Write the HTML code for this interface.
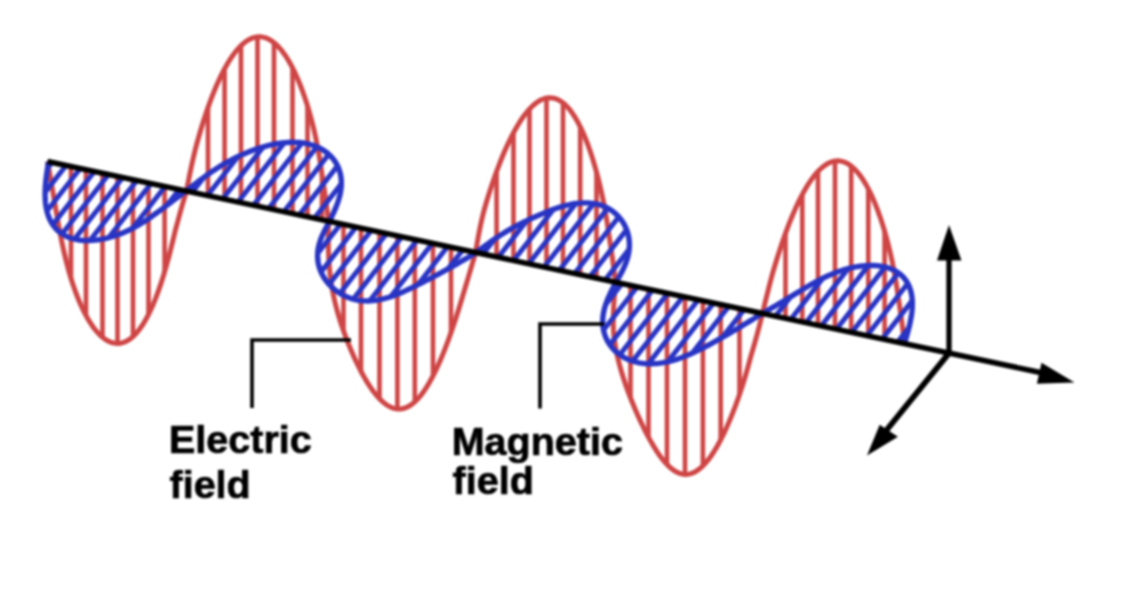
<!DOCTYPE html>
<html><head><meta charset="utf-8"><style>
html,body{margin:0;padding:0;background:#fff;width:1130px;height:592px;overflow:hidden;}
svg{display:block;filter:blur(0.8px);font-family:"Liberation Sans", sans-serif;}
</style></head><body>
<svg width="1130" height="592" viewBox="0 0 1130 592">
<defs>
<clipPath id="rc0"><path d="M47.50 161.50L48.22 165.49L48.94 169.47L49.66 173.46L50.36 177.45L51.06 181.44L51.76 185.44L52.45 189.44L53.14 193.45L53.82 197.46L54.51 201.49L55.19 205.53L55.88 209.59L56.58 213.67L57.30 217.78L58.03 221.92L58.78 226.09L59.57 230.29L60.38 234.54L61.23 238.82L62.11 243.15L63.05 247.53L64.03 251.94L65.07 256.40L66.17 260.90L67.33 265.43L68.57 269.99L69.87 274.57L71.26 279.16L72.72 283.74L74.27 288.31L75.91 292.85L77.63 297.33L79.43 301.74L81.33 306.06L83.31 310.27L85.38 314.33L87.53 318.24L89.76 321.96L92.07 325.46L94.45 328.72L96.90 331.72L99.41 334.42L101.97 336.81L104.59 338.87L107.24 340.57L109.93 341.89L112.65 342.82L115.38 343.35L118.13 343.46L120.87 343.15L123.61 342.42L126.34 341.26L129.04 339.68L131.71 337.68L134.35 335.28L136.94 332.48L139.48 329.32L141.97 325.81L144.39 321.96L146.75 317.82L149.03 313.41L151.24 308.76L153.38 303.90L155.43 298.87L157.40 293.70L159.29 288.43L161.09 283.09L162.81 277.71L164.45 272.34L166.01 266.99L167.48 261.70L168.88 256.50L170.21 251.40L171.46 246.44L172.64 241.62L173.76 236.96L174.81 232.48L175.92 228.17L177.03 224.04L178.10 220.08L179.13 216.30L180.13 212.68L181.10 209.20L182.05 205.87L182.98 202.65L183.89 199.52L184.80 196.47L185.70 193.47L186.60 190.50 Z"/></clipPath>
<clipPath id="rc1"><path d="M186.60 190.50L187.18 187.47L187.77 184.41L188.38 181.30L189.00 178.12L189.66 174.85L190.35 171.46L191.09 167.94L191.87 164.28L192.72 160.46L193.63 156.48L194.60 152.32L195.68 147.99L196.89 143.49L198.18 138.82L199.55 133.99L201.02 129.03L202.57 123.94L204.22 118.74L205.96 113.46L207.78 108.13L209.70 102.76L211.71 97.40L213.81 92.07L215.99 86.81L218.25 81.66L220.59 76.63L223.00 71.78L225.48 67.13L228.02 62.72L230.62 58.57L233.27 54.72L235.97 51.19L238.70 48.01L241.47 45.20L244.26 42.77L247.07 40.74L249.89 39.12L252.71 37.92L255.53 37.14L258.35 36.79L261.14 36.86L263.91 37.34L266.66 38.23L269.36 39.51L272.03 41.17L274.65 43.19L277.22 45.55L279.74 48.23L282.19 51.21L284.58 54.45L286.91 57.95L289.16 61.66L291.34 65.58L293.45 69.66L295.48 73.90L297.43 78.25L299.30 82.71L301.09 87.25L302.81 91.85L304.44 96.49L306.00 101.15L307.48 105.83L308.88 110.50L310.21 115.16L311.46 119.79L312.64 124.40L313.76 128.97L314.80 133.50L315.79 137.99L316.71 142.43L317.57 146.83L318.38 151.19L319.13 155.50L319.84 159.78L320.50 164.02L321.11 168.22L321.69 172.40L322.32 176.55L322.97 180.68L323.59 184.79L324.20 188.88L324.78 192.96L325.34 197.02L325.89 201.08L326.42 205.13L326.95 209.18L327.47 213.22L327.98 217.26L328.50 221.30 Z"/></clipPath>
<clipPath id="rc2"><path d="M328.50 221.30L328.44 225.50L328.38 229.71L328.34 233.91L328.32 238.11L328.33 242.31L328.38 246.51L328.47 250.71L328.62 254.91L328.82 259.12L329.08 263.33L329.42 267.54L329.82 271.77L330.28 276.02L330.83 280.28L331.47 284.56L332.20 288.87L333.02 293.21L333.93 297.59L334.94 302.00L336.05 306.44L337.25 310.93L338.54 315.45L339.93 320.02L341.41 324.62L342.98 329.25L344.63 333.90L346.37 338.57L348.19 343.25L350.10 347.93L352.07 352.58L354.12 357.21L356.24 361.78L358.43 366.28L360.67 370.69L362.98 374.98L365.34 379.13L367.75 383.12L370.21 386.92L372.71 390.50L375.26 393.84L377.84 396.91L380.46 399.69L383.10 402.14L385.78 404.26L388.48 406.02L391.19 407.39L393.93 408.36L396.67 408.92L399.43 409.06L402.19 408.77L404.95 408.04L407.70 406.88L410.45 405.28L413.19 403.26L415.90 400.83L418.60 398.00L421.27 394.78L423.91 391.21L426.51 387.30L429.07 383.08L431.59 378.58L434.05 373.83L436.47 368.88L438.82 363.74L441.11 358.46L443.33 353.08L445.48 347.62L447.56 342.13L449.57 336.63L451.49 331.16L453.34 325.76L455.10 320.44L456.79 315.23L458.39 310.15L459.91 305.22L461.36 300.46L462.73 295.87L464.05 291.47L465.32 287.24L466.53 283.20L467.68 279.34L468.78 275.64L469.83 272.09L470.84 268.68L471.81 265.40L472.76 262.21L473.68 259.10L474.59 256.03L475.50 253.00 Z"/></clipPath>
<clipPath id="rc3"><path d="M475.50 253.00L476.01 249.92L476.53 246.82L477.07 243.68L477.63 240.47L478.22 237.18L478.86 233.78L479.55 230.27L480.29 226.62L481.09 222.83L481.97 218.89L482.91 214.79L484.00 210.53L485.26 206.11L486.61 201.54L488.05 196.83L489.57 191.97L491.19 187.00L492.89 181.92L494.68 176.76L496.56 171.54L498.53 166.29L500.58 161.02L502.72 155.78L504.93 150.58L507.22 145.47L509.58 140.47L512.00 135.61L514.49 130.93L517.03 126.46L519.61 122.22L522.24 118.25L524.91 114.56L527.60 111.20L530.32 108.17L533.06 105.50L535.80 103.21L538.55 101.31L541.30 99.80L544.04 98.71L546.76 98.02L549.47 97.75L552.14 97.90L554.79 98.45L557.40 99.40L559.97 100.74L562.49 102.46L564.97 104.54L567.39 106.97L569.76 109.72L572.06 112.77L574.31 116.12L576.49 119.72L578.60 123.55L580.65 127.60L582.63 131.84L584.54 136.25L586.37 140.79L588.14 145.46L589.83 150.22L591.45 155.05L593.00 159.94L594.48 164.87L595.89 169.82L597.22 174.76L598.49 179.70L599.69 184.62L600.83 189.50L601.90 194.33L602.91 199.12L603.86 203.84L604.74 208.50L605.57 213.10L606.35 217.63L607.08 222.08L607.75 226.47L608.38 230.78L608.96 235.03L609.60 239.22L610.26 243.34L610.88 247.41L611.47 251.43L612.04 255.39L612.58 259.32L613.10 263.21L613.60 267.06L614.09 270.89L614.56 274.71L615.03 278.51L615.50 282.30 Z"/></clipPath>
<clipPath id="rc4"><path d="M615.50 282.30L615.12 286.67L614.76 291.04L614.41 295.41L614.09 299.77L613.81 304.13L613.59 308.49L613.42 312.84L613.32 317.18L613.29 321.52L613.34 325.86L613.49 330.20L613.79 334.55L614.33 338.90L614.97 343.27L615.70 347.65L616.55 352.05L617.49 356.47L618.54 360.92L619.70 365.40L620.95 369.92L622.31 374.47L623.76 379.05L625.31 383.68L626.95 388.33L628.67 393.02L630.48 397.73L632.36 402.46L634.32 407.20L636.35 411.94L638.44 416.66L640.59 421.35L642.80 425.99L645.05 430.56L647.36 435.04L649.71 439.41L652.11 443.64L654.54 447.71L657.01 451.59L659.51 455.25L662.05 458.67L664.61 461.81L667.21 464.67L669.83 467.20L672.47 469.38L675.14 471.19L677.84 472.62L680.55 473.64L683.28 474.24L686.02 474.40L688.78 474.13L691.54 473.40L694.32 472.24L697.10 470.62L699.87 468.57L702.64 466.09L705.40 463.20L708.14 459.91L710.87 456.26L713.56 452.25L716.22 447.92L718.84 443.30L721.41 438.43L723.93 433.33L726.38 428.05L728.77 422.61L731.09 417.06L733.32 411.44L735.47 405.77L737.53 400.10L739.50 394.45L741.36 388.87L743.13 383.37L744.79 377.98L746.35 372.73L747.80 367.63L749.14 362.70L750.39 357.94L751.70 353.38L753.00 349.00L754.22 344.80L755.36 340.79L756.42 336.95L757.42 333.26L758.36 329.72L759.25 326.30L760.09 322.98L760.91 319.74L761.71 316.56L762.50 313.40 Z"/></clipPath>
<clipPath id="rc5"><path d="M762.50 313.40L763.24 310.34L763.98 307.26L764.73 304.14L765.51 300.95L766.31 297.67L767.15 294.30L768.02 290.80L768.95 287.17L769.92 283.40L770.96 279.47L772.05 275.39L773.24 271.14L774.54 266.74L775.92 262.19L777.37 257.49L778.91 252.66L780.53 247.72L782.23 242.67L784.01 237.54L785.87 232.36L787.81 227.15L789.84 221.93L791.94 216.74L794.12 211.61L796.37 206.57L798.68 201.65L801.06 196.89L803.50 192.30L806.00 187.93L808.54 183.81L811.13 179.96L813.76 176.40L816.42 173.17L819.11 170.28L821.82 167.75L824.54 165.60L827.27 163.84L830.00 162.48L832.73 161.53L835.45 160.99L838.16 160.86L840.84 161.13L843.49 161.80L846.11 162.86L848.70 164.30L851.24 166.11L853.74 168.27L856.18 170.75L858.57 173.55L860.91 176.63L863.18 179.98L865.38 183.57L867.53 187.39L869.60 191.39L871.60 195.57L873.53 199.90L875.39 204.35L877.18 208.91L878.89 213.55L880.52 218.25L882.09 223.00L883.58 227.78L884.99 232.57L886.34 237.35L887.61 242.13L888.81 246.88L889.95 251.59L891.02 256.27L892.03 260.90L892.98 265.48L893.86 270.00L894.69 274.47L895.46 278.89L896.19 283.24L896.86 287.54L897.49 291.79L898.07 295.99L898.70 300.13L899.33 304.23L899.93 308.29L900.51 312.31L901.06 316.30L901.59 320.25L902.10 324.18L902.59 328.09L903.08 331.98L903.56 335.86L904.03 339.73L904.50 343.60 Z"/></clipPath>
<clipPath id="bc0"><path d="M48.50 162.00L48.11 164.44L47.73 166.88L47.36 169.33L47.00 171.78L46.66 174.23L46.34 176.69L46.04 179.16L45.78 181.63L45.55 184.11L45.36 186.59L45.22 189.08L45.13 191.56L45.09 194.05L45.12 196.52L45.22 198.99L45.39 201.44L45.64 203.87L45.97 206.28L46.39 208.65L46.91 210.99L47.52 213.27L48.24 215.51L49.06 217.69L49.99 219.80L51.03 221.84L52.19 223.79L53.46 225.66L54.85 227.44L56.35 229.12L57.97 230.70L59.70 232.16L61.53 233.52L63.48 234.75L65.52 235.87L67.65 236.87L69.88 237.75L72.19 238.50L74.57 239.13L77.02 239.65L79.53 240.04L82.10 240.32L84.70 240.48L87.33 240.54L89.99 240.49L92.67 240.34L95.34 240.10L98.02 239.76L100.69 239.34L103.33 238.85L105.96 238.28L108.55 237.64L111.10 236.94L113.61 236.18L116.07 235.38L118.49 234.52L120.85 233.63L123.16 232.69L125.42 231.73L127.63 230.73L129.78 229.70L131.88 228.65L133.94 227.57L135.95 226.47L137.93 225.35L139.87 224.20L141.78 223.04L143.66 221.86L145.53 220.65L147.38 219.43L149.22 218.18L151.06 216.91L152.89 215.62L154.74 214.31L156.59 212.97L158.46 211.61L160.34 210.23L162.24 208.82L164.16 207.39L166.11 205.94L168.07 204.46L170.06 202.97L172.08 201.46L174.11 199.93L176.16 198.38L178.23 196.82L180.31 195.25L182.40 193.67L184.50 192.09L186.60 190.50 Z"/></clipPath>
<clipPath id="bc1"><path d="M186.60 190.50L188.78 188.81L190.95 187.13L193.12 185.45L195.29 183.79L197.45 182.14L199.61 180.51L201.76 178.91L203.90 177.33L206.04 175.79L208.16 174.27L210.28 172.79L212.40 171.34L214.50 169.93L216.61 168.55L218.70 167.21L220.80 165.91L222.90 164.64L225.00 163.40L227.10 162.20L229.21 161.04L231.33 159.90L233.46 158.79L235.61 157.71L237.78 156.66L239.97 155.63L242.18 154.63L244.42 153.66L246.69 152.70L248.99 151.78L251.33 150.87L253.70 150.00L256.11 149.15L258.55 148.33L261.04 147.55L263.56 146.80L266.12 146.09L268.71 145.42L271.34 144.81L274.01 144.25L276.70 143.74L279.42 143.30L282.16 142.93L284.91 142.64L287.68 142.43L290.46 142.31L293.23 142.27L296.00 142.34L298.76 142.51L301.49 142.78L304.19 143.17L306.86 143.67L309.48 144.29L312.05 145.02L314.56 145.88L317.00 146.85L319.35 147.95L321.63 149.16L323.81 150.49L325.88 151.93L327.85 153.49L329.70 155.15L331.43 156.91L333.04 158.77L334.51 160.71L335.84 162.75L337.04 164.85L338.09 167.03L338.99 169.28L339.75 171.57L340.36 173.92L340.83 176.31L341.15 178.74L341.32 181.20L341.36 183.68L341.26 186.18L341.02 188.69L340.67 191.22L340.19 193.74L339.60 196.27L338.90 198.80L338.11 201.33L337.23 203.86L336.28 206.37L335.25 208.89L334.17 211.40L333.04 213.90L331.88 216.40L330.70 218.90L329.50 221.40 Z"/></clipPath>
<clipPath id="bc2"><path d="M329.50 221.40L328.21 223.73L326.94 226.07L325.70 228.41L324.50 230.75L323.35 233.12L322.28 235.49L321.29 237.88L320.40 240.28L319.62 242.71L318.95 245.14L318.40 247.60L318.00 250.06L317.73 252.54L317.61 255.02L317.64 257.51L317.82 259.99L318.16 262.47L318.66 264.93L319.32 267.37L320.13 269.78L321.10 272.16L322.21 274.49L323.47 276.76L324.87 278.98L326.41 281.13L328.07 283.20L329.85 285.18L331.74 287.07L333.74 288.86L335.83 290.54L338.01 292.10L340.26 293.55L342.59 294.88L344.97 296.07L347.41 297.14L349.89 298.07L352.41 298.87L354.96 299.54L357.53 300.07L360.11 300.48L362.71 300.75L365.30 300.90L367.90 300.93L370.49 300.84L373.08 300.65L375.65 300.34L378.21 299.94L380.75 299.45L383.28 298.86L385.78 298.21L388.27 297.48L390.74 296.68L393.18 295.83L395.61 294.92L398.02 293.97L400.42 292.98L402.79 291.96L405.15 290.90L407.50 289.83L409.83 288.73L412.15 287.61L414.46 286.49L416.76 285.35L419.05 284.20L421.34 283.04L423.62 281.88L425.89 280.71L428.16 279.53L430.43 278.35L432.69 277.17L434.96 275.97L437.21 274.77L439.47 273.56L441.73 272.35L443.98 271.12L446.24 269.89L448.49 268.64L450.75 267.39L453.00 266.12L455.25 264.85L457.50 263.56L459.75 262.26L462.00 260.96L464.25 259.65L466.50 258.33L468.75 257.00L471.00 255.67L473.25 254.34L475.50 253.00 Z"/></clipPath>
<clipPath id="bc3"><path d="M475.50 253.00L477.67 251.37L479.84 249.74L482.01 248.12L484.18 246.51L486.35 244.93L488.51 243.36L490.67 241.82L492.83 240.31L494.98 238.83L497.14 237.38L499.29 235.96L501.43 234.58L503.58 233.23L505.73 231.92L507.87 230.64L510.02 229.40L512.17 228.18L514.33 227.00L516.49 225.84L518.66 224.70L520.83 223.59L523.02 222.49L525.22 221.41L527.44 220.35L529.67 219.30L531.93 218.25L534.20 217.22L536.50 216.20L538.82 215.18L541.16 214.18L543.54 213.19L545.94 212.21L548.37 211.25L550.83 210.31L553.32 209.39L555.84 208.51L558.38 207.66L560.96 206.86L563.55 206.10L566.18 205.41L568.82 204.78L571.48 204.22L574.15 203.75L576.84 203.37L579.53 203.08L582.22 202.90L584.90 202.84L587.57 202.89L590.22 203.07L592.85 203.38L595.45 203.83L598.00 204.41L600.51 205.14L602.96 206.00L605.35 207.01L607.67 208.16L609.90 209.45L612.05 210.87L614.11 212.42L616.05 214.10L617.89 215.90L619.61 217.81L621.21 219.82L622.68 221.93L624.01 224.12L625.20 226.39L626.24 228.73L627.14 231.12L627.89 233.56L628.49 236.04L628.93 238.55L629.23 241.07L629.37 243.61L629.37 246.15L629.22 248.69L628.94 251.21L628.51 253.73L627.96 256.22L627.29 258.70L626.50 261.15L625.61 263.58L624.63 265.98L623.56 268.36L622.41 270.72L621.21 273.06L619.95 275.39L618.65 277.70L617.33 280.00L616.00 282.30 Z"/></clipPath>
<clipPath id="bc4"><path d="M616.00 282.30L614.67 284.79L613.36 287.29L612.07 289.79L610.82 292.30L609.62 294.81L608.48 297.34L607.41 299.87L606.43 302.42L605.54 304.98L604.76 307.54L604.10 310.12L603.55 312.70L603.13 315.28L602.85 317.86L602.71 320.44L602.72 323.00L602.88 325.55L603.19 328.08L603.66 330.57L604.28 333.03L605.06 335.44L605.99 337.81L607.07 340.11L608.31 342.34L609.69 344.49L611.22 346.56L612.88 348.54L614.67 350.41L616.59 352.19L618.62 353.84L620.77 355.39L623.01 356.80L625.35 358.10L627.78 359.26L630.28 360.29L632.85 361.18L635.47 361.95L638.15 362.57L640.87 363.07L643.62 363.44L646.40 363.68L649.19 363.79L651.99 363.79L654.79 363.67L657.59 363.44L660.37 363.11L663.14 362.68L665.89 362.16L668.62 361.56L671.31 360.89L673.98 360.14L676.61 359.33L679.20 358.46L681.76 357.54L684.28 356.58L686.77 355.58L689.21 354.55L691.63 353.48L694.00 352.39L696.35 351.28L698.67 350.15L700.96 349.01L703.23 347.85L705.48 346.68L707.72 345.50L709.94 344.30L712.14 343.10L714.35 341.89L716.55 340.66L718.75 339.42L720.95 338.18L723.15 336.92L725.37 335.64L727.59 334.36L729.83 333.06L732.07 331.74L734.34 330.41L736.61 329.06L738.91 327.70L741.21 326.32L743.53 324.92L745.87 323.52L748.22 322.10L750.58 320.67L752.95 319.23L755.33 317.78L757.72 316.32L760.11 314.86L762.50 313.40 Z"/></clipPath>
<clipPath id="bc5"><path d="M762.50 313.40L764.85 312.03L767.19 310.67L769.52 309.30L771.84 307.95L774.15 306.59L776.43 305.25L778.69 303.92L780.92 302.59L783.13 301.28L785.31 299.97L787.46 298.68L789.57 297.41L791.66 296.14L793.73 294.89L795.77 293.65L797.79 292.42L799.79 291.20L801.77 290.00L803.75 288.81L805.73 287.62L807.70 286.45L809.68 285.29L811.68 284.14L813.70 283.00L815.74 281.87L817.81 280.75L819.91 279.65L822.06 278.56L824.25 277.49L826.48 276.44L828.77 275.40L831.11 274.40L833.50 273.42L835.95 272.47L838.45 271.57L841.00 270.70L843.60 269.88L846.25 269.11L848.94 268.40L851.67 267.75L854.43 267.17L857.21 266.66L860.00 266.24L862.81 265.90L865.62 265.65L868.41 265.50L871.19 265.45L873.94 265.50L876.65 265.67L879.31 265.95L881.91 266.34L884.45 266.86L886.92 267.49L889.30 268.24L891.58 269.12L893.77 270.12L895.85 271.24L897.82 272.47L899.68 273.82L901.41 275.29L903.01 276.86L904.49 278.53L905.84 280.31L907.06 282.18L908.14 284.14L909.10 286.18L909.92 288.30L910.62 290.49L911.20 292.74L911.65 295.05L911.99 297.41L912.21 299.82L912.33 302.27L912.34 304.75L912.26 307.26L912.09 309.80L911.83 312.35L911.49 314.93L911.09 317.51L910.61 320.10L910.08 322.71L909.50 325.31L908.87 327.92L908.20 330.53L907.50 333.15L906.77 335.76L906.03 338.37L905.27 340.99L904.50 343.60 Z"/></clipPath>
</defs>
<rect width="1130" height="592" fill="#fff"/>
<path d="M71.0 0V592 M86.0 0V592 M102.5 0V592 M117.5 0V592 M133.0 0V592 M148.5 0V592 M164.6 0V592" stroke="#cf4545" stroke-width="4.6" clip-path="url(#rc0)" fill="none"/>
<path d="M208.0 0V592 M224.6 0V592 M241.0 0V592 M257.5 0V592 M274.0 0V592 M292.5 0V592 M307.5 0V592 M322.0 0V592" stroke="#cf4545" stroke-width="4.6" clip-path="url(#rc1)" fill="none"/>
<path d="M343.5 0V592 M361.0 0V592 M379.5 0V592 M397.4 0V592 M414.8 0V592 M433.0 0V592 M451.0 0V592" stroke="#cf4545" stroke-width="4.6" clip-path="url(#rc2)" fill="none"/>
<path d="M496.6 0V592 M513.5 0V592 M529.5 0V592 M546.5 0V592 M563.0 0V592 M580.2 0V592 M596.5 0V592" stroke="#cf4545" stroke-width="4.6" clip-path="url(#rc3)" fill="none"/>
<path d="M630.5 0V592 M648.5 0V592 M667.0 0V592 M685.0 0V592 M702.9 0V592 M720.7 0V592 M739.5 0V592" stroke="#cf4545" stroke-width="4.6" clip-path="url(#rc4)" fill="none"/>
<path d="M785.5 0V592 M802.3 0V592 M818.0 0V592 M835.0 0V592 M851.2 0V592 M868.3 0V592 M884.6 0V592" stroke="#cf4545" stroke-width="4.6" clip-path="url(#rc5)" fill="none"/>
<path d="M47.50 161.50L48.22 165.49L48.94 169.47L49.66 173.46L50.36 177.45L51.06 181.44L51.76 185.44L52.45 189.44L53.14 193.45L53.82 197.46L54.51 201.49L55.19 205.53L55.88 209.59L56.58 213.67L57.30 217.78L58.03 221.92L58.78 226.09L59.57 230.29L60.38 234.54L61.23 238.82L62.11 243.15L63.05 247.53L64.03 251.94L65.07 256.40L66.17 260.90L67.33 265.43L68.57 269.99L69.87 274.57L71.26 279.16L72.72 283.74L74.27 288.31L75.91 292.85L77.63 297.33L79.43 301.74L81.33 306.06L83.31 310.27L85.38 314.33L87.53 318.24L89.76 321.96L92.07 325.46L94.45 328.72L96.90 331.72L99.41 334.42L101.97 336.81L104.59 338.87L107.24 340.57L109.93 341.89L112.65 342.82L115.38 343.35L118.13 343.46L120.87 343.15L123.61 342.42L126.34 341.26L129.04 339.68L131.71 337.68L134.35 335.28L136.94 332.48L139.48 329.32L141.97 325.81L144.39 321.96L146.75 317.82L149.03 313.41L151.24 308.76L153.38 303.90L155.43 298.87L157.40 293.70L159.29 288.43L161.09 283.09L162.81 277.71L164.45 272.34L166.01 266.99L167.48 261.70L168.88 256.50L170.21 251.40L171.46 246.44L172.64 241.62L173.76 236.96L174.81 232.48L175.92 228.17L177.03 224.04L178.10 220.08L179.13 216.30L180.13 212.68L181.10 209.20L182.05 205.87L182.98 202.65L183.89 199.52L184.80 196.47L185.70 193.47L186.60 190.50L187.18 187.47L187.77 184.41L188.38 181.30L189.00 178.12L189.66 174.85L190.35 171.46L191.09 167.94L191.87 164.28L192.72 160.46L193.63 156.48L194.60 152.32L195.68 147.99L196.89 143.49L198.18 138.82L199.55 133.99L201.02 129.03L202.57 123.94L204.22 118.74L205.96 113.46L207.78 108.13L209.70 102.76L211.71 97.40L213.81 92.07L215.99 86.81L218.25 81.66L220.59 76.63L223.00 71.78L225.48 67.13L228.02 62.72L230.62 58.57L233.27 54.72L235.97 51.19L238.70 48.01L241.47 45.20L244.26 42.77L247.07 40.74L249.89 39.12L252.71 37.92L255.53 37.14L258.35 36.79L261.14 36.86L263.91 37.34L266.66 38.23L269.36 39.51L272.03 41.17L274.65 43.19L277.22 45.55L279.74 48.23L282.19 51.21L284.58 54.45L286.91 57.95L289.16 61.66L291.34 65.58L293.45 69.66L295.48 73.90L297.43 78.25L299.30 82.71L301.09 87.25L302.81 91.85L304.44 96.49L306.00 101.15L307.48 105.83L308.88 110.50L310.21 115.16L311.46 119.79L312.64 124.40L313.76 128.97L314.80 133.50L315.79 137.99L316.71 142.43L317.57 146.83L318.38 151.19L319.13 155.50L319.84 159.78L320.50 164.02L321.11 168.22L321.69 172.40L322.32 176.55L322.97 180.68L323.59 184.79L324.20 188.88L324.78 192.96L325.34 197.02L325.89 201.08L326.42 205.13L326.95 209.18L327.47 213.22L327.98 217.26L328.50 221.30L328.44 225.50L328.38 229.71L328.34 233.91L328.32 238.11L328.33 242.31L328.38 246.51L328.47 250.71L328.62 254.91L328.82 259.12L329.08 263.33L329.42 267.54L329.82 271.77L330.28 276.02L330.83 280.28L331.47 284.56L332.20 288.87L333.02 293.21L333.93 297.59L334.94 302.00L336.05 306.44L337.25 310.93L338.54 315.45L339.93 320.02L341.41 324.62L342.98 329.25L344.63 333.90L346.37 338.57L348.19 343.25L350.10 347.93L352.07 352.58L354.12 357.21L356.24 361.78L358.43 366.28L360.67 370.69L362.98 374.98L365.34 379.13L367.75 383.12L370.21 386.92L372.71 390.50L375.26 393.84L377.84 396.91L380.46 399.69L383.10 402.14L385.78 404.26L388.48 406.02L391.19 407.39L393.93 408.36L396.67 408.92L399.43 409.06L402.19 408.77L404.95 408.04L407.70 406.88L410.45 405.28L413.19 403.26L415.90 400.83L418.60 398.00L421.27 394.78L423.91 391.21L426.51 387.30L429.07 383.08L431.59 378.58L434.05 373.83L436.47 368.88L438.82 363.74L441.11 358.46L443.33 353.08L445.48 347.62L447.56 342.13L449.57 336.63L451.49 331.16L453.34 325.76L455.10 320.44L456.79 315.23L458.39 310.15L459.91 305.22L461.36 300.46L462.73 295.87L464.05 291.47L465.32 287.24L466.53 283.20L467.68 279.34L468.78 275.64L469.83 272.09L470.84 268.68L471.81 265.40L472.76 262.21L473.68 259.10L474.59 256.03L475.50 253.00L476.01 249.92L476.53 246.82L477.07 243.68L477.63 240.47L478.22 237.18L478.86 233.78L479.55 230.27L480.29 226.62L481.09 222.83L481.97 218.89L482.91 214.79L484.00 210.53L485.26 206.11L486.61 201.54L488.05 196.83L489.57 191.97L491.19 187.00L492.89 181.92L494.68 176.76L496.56 171.54L498.53 166.29L500.58 161.02L502.72 155.78L504.93 150.58L507.22 145.47L509.58 140.47L512.00 135.61L514.49 130.93L517.03 126.46L519.61 122.22L522.24 118.25L524.91 114.56L527.60 111.20L530.32 108.17L533.06 105.50L535.80 103.21L538.55 101.31L541.30 99.80L544.04 98.71L546.76 98.02L549.47 97.75L552.14 97.90L554.79 98.45L557.40 99.40L559.97 100.74L562.49 102.46L564.97 104.54L567.39 106.97L569.76 109.72L572.06 112.77L574.31 116.12L576.49 119.72L578.60 123.55L580.65 127.60L582.63 131.84L584.54 136.25L586.37 140.79L588.14 145.46L589.83 150.22L591.45 155.05L593.00 159.94L594.48 164.87L595.89 169.82L597.22 174.76L598.49 179.70L599.69 184.62L600.83 189.50L601.90 194.33L602.91 199.12L603.86 203.84L604.74 208.50L605.57 213.10L606.35 217.63L607.08 222.08L607.75 226.47L608.38 230.78L608.96 235.03L609.60 239.22L610.26 243.34L610.88 247.41L611.47 251.43L612.04 255.39L612.58 259.32L613.10 263.21L613.60 267.06L614.09 270.89L614.56 274.71L615.03 278.51L615.50 282.30L615.12 286.67L614.76 291.04L614.41 295.41L614.09 299.77L613.81 304.13L613.59 308.49L613.42 312.84L613.32 317.18L613.29 321.52L613.34 325.86L613.49 330.20L613.79 334.55L614.33 338.90L614.97 343.27L615.70 347.65L616.55 352.05L617.49 356.47L618.54 360.92L619.70 365.40L620.95 369.92L622.31 374.47L623.76 379.05L625.31 383.68L626.95 388.33L628.67 393.02L630.48 397.73L632.36 402.46L634.32 407.20L636.35 411.94L638.44 416.66L640.59 421.35L642.80 425.99L645.05 430.56L647.36 435.04L649.71 439.41L652.11 443.64L654.54 447.71L657.01 451.59L659.51 455.25L662.05 458.67L664.61 461.81L667.21 464.67L669.83 467.20L672.47 469.38L675.14 471.19L677.84 472.62L680.55 473.64L683.28 474.24L686.02 474.40L688.78 474.13L691.54 473.40L694.32 472.24L697.10 470.62L699.87 468.57L702.64 466.09L705.40 463.20L708.14 459.91L710.87 456.26L713.56 452.25L716.22 447.92L718.84 443.30L721.41 438.43L723.93 433.33L726.38 428.05L728.77 422.61L731.09 417.06L733.32 411.44L735.47 405.77L737.53 400.10L739.50 394.45L741.36 388.87L743.13 383.37L744.79 377.98L746.35 372.73L747.80 367.63L749.14 362.70L750.39 357.94L751.70 353.38L753.00 349.00L754.22 344.80L755.36 340.79L756.42 336.95L757.42 333.26L758.36 329.72L759.25 326.30L760.09 322.98L760.91 319.74L761.71 316.56L762.50 313.40L763.24 310.34L763.98 307.26L764.73 304.14L765.51 300.95L766.31 297.67L767.15 294.30L768.02 290.80L768.95 287.17L769.92 283.40L770.96 279.47L772.05 275.39L773.24 271.14L774.54 266.74L775.92 262.19L777.37 257.49L778.91 252.66L780.53 247.72L782.23 242.67L784.01 237.54L785.87 232.36L787.81 227.15L789.84 221.93L791.94 216.74L794.12 211.61L796.37 206.57L798.68 201.65L801.06 196.89L803.50 192.30L806.00 187.93L808.54 183.81L811.13 179.96L813.76 176.40L816.42 173.17L819.11 170.28L821.82 167.75L824.54 165.60L827.27 163.84L830.00 162.48L832.73 161.53L835.45 160.99L838.16 160.86L840.84 161.13L843.49 161.80L846.11 162.86L848.70 164.30L851.24 166.11L853.74 168.27L856.18 170.75L858.57 173.55L860.91 176.63L863.18 179.98L865.38 183.57L867.53 187.39L869.60 191.39L871.60 195.57L873.53 199.90L875.39 204.35L877.18 208.91L878.89 213.55L880.52 218.25L882.09 223.00L883.58 227.78L884.99 232.57L886.34 237.35L887.61 242.13L888.81 246.88L889.95 251.59L891.02 256.27L892.03 260.90L892.98 265.48L893.86 270.00L894.69 274.47L895.46 278.89L896.19 283.24L896.86 287.54L897.49 291.79L898.07 295.99L898.70 300.13L899.33 304.23L899.93 308.29L900.51 312.31L901.06 316.30L901.59 320.25L902.10 324.18L902.59 328.09L903.08 331.98L903.56 335.86L904.03 339.73L904.50 343.60" stroke="#cf4545" stroke-width="5.0" fill="none" stroke-linejoin="round"/>
<path d="M-38.9 152.0L-115.9 250.5 M-22.4 152.0L-99.4 250.5 M-5.9 152.0L-82.9 250.5 M10.6 152.0L-66.4 250.5 M27.1 152.0L-49.9 250.5 M43.6 152.0L-33.4 250.5 M60.1 152.0L-16.9 250.5 M76.6 152.0L-0.4 250.5 M93.1 152.0L16.1 250.5 M109.6 152.0L32.6 250.5 M126.1 152.0L49.1 250.5 M142.6 152.0L65.6 250.5 M159.1 152.0L82.1 250.5 M175.6 152.0L98.6 250.5 M192.1 152.0L115.1 250.5 M208.6 152.0L131.6 250.5 M225.1 152.0L148.1 250.5 M241.6 152.0L164.6 250.5 M258.1 152.0L181.1 250.5 M274.6 152.0L197.6 250.5 M291.1 152.0L214.1 250.5 M307.6 152.0L230.6 250.5 M324.1 152.0L247.1 250.5 M340.6 152.0L263.6 250.5 M357.1 152.0L280.1 250.5" stroke="#2834c4" stroke-width="5.0" clip-path="url(#bc0)" fill="none"/>
<path d="M96.7 132.3L19.3 231.4 M114.5 132.3L37.1 231.4 M132.3 132.3L54.9 231.4 M150.1 132.3L72.7 231.4 M167.9 132.3L90.5 231.4 M185.7 132.3L108.3 231.4 M203.5 132.3L126.1 231.4 M221.3 132.3L143.9 231.4 M239.1 132.3L161.7 231.4 M256.9 132.3L179.5 231.4 M274.7 132.3L197.3 231.4 M292.5 132.3L215.1 231.4 M310.3 132.3L232.9 231.4 M328.1 132.3L250.7 231.4 M345.9 132.3L268.5 231.4 M363.7 132.3L286.3 231.4 M381.5 132.3L304.1 231.4 M399.3 132.3L321.9 231.4 M417.1 132.3L339.7 231.4 M434.9 132.3L357.5 231.4 M452.7 132.3L375.3 231.4 M470.5 132.3L393.1 231.4 M488.3 132.3L410.9 231.4 M506.1 132.3L428.7 231.4" stroke="#2834c4" stroke-width="5.0" clip-path="url(#bc1)" fill="none"/>
<path d="M225.9 211.4L148.2 310.9 M243.7 211.4L166.0 310.9 M261.5 211.4L183.8 310.9 M279.3 211.4L201.6 310.9 M297.1 211.4L219.4 310.9 M314.9 211.4L237.2 310.9 M332.7 211.4L255.0 310.9 M350.5 211.4L272.8 310.9 M368.3 211.4L290.6 310.9 M386.1 211.4L308.4 310.9 M403.9 211.4L326.2 310.9 M421.7 211.4L344.0 310.9 M439.5 211.4L361.8 310.9 M457.3 211.4L379.6 310.9 M475.1 211.4L397.4 310.9 M492.9 211.4L415.2 310.9 M510.7 211.4L433.0 310.9 M528.5 211.4L450.8 310.9 M546.3 211.4L468.6 310.9 M564.1 211.4L486.4 310.9 M581.9 211.4L504.2 310.9 M599.7 211.4L522.0 310.9 M617.5 211.4L539.8 310.9 M635.3 211.4L557.6 310.9 M653.1 211.4L575.4 310.9" stroke="#2834c4" stroke-width="5.0" clip-path="url(#bc2)" fill="none"/>
<path d="M388.4 192.8L310.7 292.3 M406.2 192.8L328.5 292.3 M424.0 192.8L346.3 292.3 M441.8 192.8L364.1 292.3 M459.6 192.8L381.9 292.3 M477.4 192.8L399.7 292.3 M495.2 192.8L417.5 292.3 M513.0 192.8L435.3 292.3 M530.8 192.8L453.1 292.3 M548.6 192.8L470.9 292.3 M566.4 192.8L488.7 292.3 M584.2 192.8L506.5 292.3 M602.0 192.8L524.3 292.3 M619.8 192.8L542.1 292.3 M637.6 192.8L559.9 292.3 M655.4 192.8L577.7 292.3 M673.2 192.8L595.5 292.3 M691.0 192.8L613.3 292.3 M708.8 192.8L631.1 292.3 M726.6 192.8L648.9 292.3 M744.4 192.8L666.7 292.3 M762.2 192.8L684.5 292.3 M780.0 192.8L702.3 292.3 M797.8 192.8L720.1 292.3" stroke="#2834c4" stroke-width="5.0" clip-path="url(#bc3)" fill="none"/>
<path d="M506.2 272.3L426.9 373.8 M524.0 272.3L444.7 373.8 M541.8 272.3L462.5 373.8 M559.6 272.3L480.3 373.8 M577.4 272.3L498.1 373.8 M595.2 272.3L515.9 373.8 M613.0 272.3L533.7 373.8 M630.8 272.3L551.5 373.8 M648.6 272.3L569.3 373.8 M666.4 272.3L587.1 373.8 M684.2 272.3L604.9 373.8 M702.0 272.3L622.7 373.8 M719.8 272.3L640.5 373.8 M737.6 272.3L658.3 373.8 M755.4 272.3L676.1 373.8 M773.2 272.3L693.9 373.8 M791.0 272.3L711.7 373.8 M808.8 272.3L729.5 373.8 M826.6 272.3L747.3 373.8 M844.4 272.3L765.1 373.8 M862.2 272.3L782.9 373.8 M880.0 272.3L800.7 373.8 M897.8 272.3L818.5 373.8 M915.6 272.3L836.3 373.8 M933.4 272.3L854.1 373.8" stroke="#2834c4" stroke-width="5.0" clip-path="url(#bc4)" fill="none"/>
<path d="M662.7 255.4L586.0 353.6 M680.5 255.4L603.8 353.6 M698.3 255.4L621.6 353.6 M716.1 255.4L639.4 353.6 M733.9 255.4L657.2 353.6 M751.7 255.4L675.0 353.6 M769.5 255.4L692.8 353.6 M787.3 255.4L710.6 353.6 M805.1 255.4L728.4 353.6 M822.9 255.4L746.2 353.6 M840.7 255.4L764.0 353.6 M858.5 255.4L781.8 353.6 M876.3 255.4L799.6 353.6 M894.1 255.4L817.4 353.6 M911.9 255.4L835.2 353.6 M929.7 255.4L853.0 353.6 M947.5 255.4L870.8 353.6 M965.3 255.4L888.6 353.6 M983.1 255.4L906.4 353.6 M1000.9 255.4L924.2 353.6 M1018.7 255.4L942.0 353.6 M1036.5 255.4L959.8 353.6 M1054.3 255.4L977.6 353.6 M1072.1 255.4L995.4 353.6" stroke="#2834c4" stroke-width="5.0" clip-path="url(#bc5)" fill="none"/>
<path d="M48.50 162.00L48.11 164.44L47.73 166.88L47.36 169.33L47.00 171.78L46.66 174.23L46.34 176.69L46.04 179.16L45.78 181.63L45.55 184.11L45.36 186.59L45.22 189.08L45.13 191.56L45.09 194.05L45.12 196.52L45.22 198.99L45.39 201.44L45.64 203.87L45.97 206.28L46.39 208.65L46.91 210.99L47.52 213.27L48.24 215.51L49.06 217.69L49.99 219.80L51.03 221.84L52.19 223.79L53.46 225.66L54.85 227.44L56.35 229.12L57.97 230.70L59.70 232.16L61.53 233.52L63.48 234.75L65.52 235.87L67.65 236.87L69.88 237.75L72.19 238.50L74.57 239.13L77.02 239.65L79.53 240.04L82.10 240.32L84.70 240.48L87.33 240.54L89.99 240.49L92.67 240.34L95.34 240.10L98.02 239.76L100.69 239.34L103.33 238.85L105.96 238.28L108.55 237.64L111.10 236.94L113.61 236.18L116.07 235.38L118.49 234.52L120.85 233.63L123.16 232.69L125.42 231.73L127.63 230.73L129.78 229.70L131.88 228.65L133.94 227.57L135.95 226.47L137.93 225.35L139.87 224.20L141.78 223.04L143.66 221.86L145.53 220.65L147.38 219.43L149.22 218.18L151.06 216.91L152.89 215.62L154.74 214.31L156.59 212.97L158.46 211.61L160.34 210.23L162.24 208.82L164.16 207.39L166.11 205.94L168.07 204.46L170.06 202.97L172.08 201.46L174.11 199.93L176.16 198.38L178.23 196.82L180.31 195.25L182.40 193.67L184.50 192.09L186.60 190.50L188.78 188.81L190.95 187.13L193.12 185.45L195.29 183.79L197.45 182.14L199.61 180.51L201.76 178.91L203.90 177.33L206.04 175.79L208.16 174.27L210.28 172.79L212.40 171.34L214.50 169.93L216.61 168.55L218.70 167.21L220.80 165.91L222.90 164.64L225.00 163.40L227.10 162.20L229.21 161.04L231.33 159.90L233.46 158.79L235.61 157.71L237.78 156.66L239.97 155.63L242.18 154.63L244.42 153.66L246.69 152.70L248.99 151.78L251.33 150.87L253.70 150.00L256.11 149.15L258.55 148.33L261.04 147.55L263.56 146.80L266.12 146.09L268.71 145.42L271.34 144.81L274.01 144.25L276.70 143.74L279.42 143.30L282.16 142.93L284.91 142.64L287.68 142.43L290.46 142.31L293.23 142.27L296.00 142.34L298.76 142.51L301.49 142.78L304.19 143.17L306.86 143.67L309.48 144.29L312.05 145.02L314.56 145.88L317.00 146.85L319.35 147.95L321.63 149.16L323.81 150.49L325.88 151.93L327.85 153.49L329.70 155.15L331.43 156.91L333.04 158.77L334.51 160.71L335.84 162.75L337.04 164.85L338.09 167.03L338.99 169.28L339.75 171.57L340.36 173.92L340.83 176.31L341.15 178.74L341.32 181.20L341.36 183.68L341.26 186.18L341.02 188.69L340.67 191.22L340.19 193.74L339.60 196.27L338.90 198.80L338.11 201.33L337.23 203.86L336.28 206.37L335.25 208.89L334.17 211.40L333.04 213.90L331.88 216.40L330.70 218.90L329.50 221.40L328.21 223.73L326.94 226.07L325.70 228.41L324.50 230.75L323.35 233.12L322.28 235.49L321.29 237.88L320.40 240.28L319.62 242.71L318.95 245.14L318.40 247.60L318.00 250.06L317.73 252.54L317.61 255.02L317.64 257.51L317.82 259.99L318.16 262.47L318.66 264.93L319.32 267.37L320.13 269.78L321.10 272.16L322.21 274.49L323.47 276.76L324.87 278.98L326.41 281.13L328.07 283.20L329.85 285.18L331.74 287.07L333.74 288.86L335.83 290.54L338.01 292.10L340.26 293.55L342.59 294.88L344.97 296.07L347.41 297.14L349.89 298.07L352.41 298.87L354.96 299.54L357.53 300.07L360.11 300.48L362.71 300.75L365.30 300.90L367.90 300.93L370.49 300.84L373.08 300.65L375.65 300.34L378.21 299.94L380.75 299.45L383.28 298.86L385.78 298.21L388.27 297.48L390.74 296.68L393.18 295.83L395.61 294.92L398.02 293.97L400.42 292.98L402.79 291.96L405.15 290.90L407.50 289.83L409.83 288.73L412.15 287.61L414.46 286.49L416.76 285.35L419.05 284.20L421.34 283.04L423.62 281.88L425.89 280.71L428.16 279.53L430.43 278.35L432.69 277.17L434.96 275.97L437.21 274.77L439.47 273.56L441.73 272.35L443.98 271.12L446.24 269.89L448.49 268.64L450.75 267.39L453.00 266.12L455.25 264.85L457.50 263.56L459.75 262.26L462.00 260.96L464.25 259.65L466.50 258.33L468.75 257.00L471.00 255.67L473.25 254.34L475.50 253.00L477.67 251.37L479.84 249.74L482.01 248.12L484.18 246.51L486.35 244.93L488.51 243.36L490.67 241.82L492.83 240.31L494.98 238.83L497.14 237.38L499.29 235.96L501.43 234.58L503.58 233.23L505.73 231.92L507.87 230.64L510.02 229.40L512.17 228.18L514.33 227.00L516.49 225.84L518.66 224.70L520.83 223.59L523.02 222.49L525.22 221.41L527.44 220.35L529.67 219.30L531.93 218.25L534.20 217.22L536.50 216.20L538.82 215.18L541.16 214.18L543.54 213.19L545.94 212.21L548.37 211.25L550.83 210.31L553.32 209.39L555.84 208.51L558.38 207.66L560.96 206.86L563.55 206.10L566.18 205.41L568.82 204.78L571.48 204.22L574.15 203.75L576.84 203.37L579.53 203.08L582.22 202.90L584.90 202.84L587.57 202.89L590.22 203.07L592.85 203.38L595.45 203.83L598.00 204.41L600.51 205.14L602.96 206.00L605.35 207.01L607.67 208.16L609.90 209.45L612.05 210.87L614.11 212.42L616.05 214.10L617.89 215.90L619.61 217.81L621.21 219.82L622.68 221.93L624.01 224.12L625.20 226.39L626.24 228.73L627.14 231.12L627.89 233.56L628.49 236.04L628.93 238.55L629.23 241.07L629.37 243.61L629.37 246.15L629.22 248.69L628.94 251.21L628.51 253.73L627.96 256.22L627.29 258.70L626.50 261.15L625.61 263.58L624.63 265.98L623.56 268.36L622.41 270.72L621.21 273.06L619.95 275.39L618.65 277.70L617.33 280.00L616.00 282.30L614.67 284.79L613.36 287.29L612.07 289.79L610.82 292.30L609.62 294.81L608.48 297.34L607.41 299.87L606.43 302.42L605.54 304.98L604.76 307.54L604.10 310.12L603.55 312.70L603.13 315.28L602.85 317.86L602.71 320.44L602.72 323.00L602.88 325.55L603.19 328.08L603.66 330.57L604.28 333.03L605.06 335.44L605.99 337.81L607.07 340.11L608.31 342.34L609.69 344.49L611.22 346.56L612.88 348.54L614.67 350.41L616.59 352.19L618.62 353.84L620.77 355.39L623.01 356.80L625.35 358.10L627.78 359.26L630.28 360.29L632.85 361.18L635.47 361.95L638.15 362.57L640.87 363.07L643.62 363.44L646.40 363.68L649.19 363.79L651.99 363.79L654.79 363.67L657.59 363.44L660.37 363.11L663.14 362.68L665.89 362.16L668.62 361.56L671.31 360.89L673.98 360.14L676.61 359.33L679.20 358.46L681.76 357.54L684.28 356.58L686.77 355.58L689.21 354.55L691.63 353.48L694.00 352.39L696.35 351.28L698.67 350.15L700.96 349.01L703.23 347.85L705.48 346.68L707.72 345.50L709.94 344.30L712.14 343.10L714.35 341.89L716.55 340.66L718.75 339.42L720.95 338.18L723.15 336.92L725.37 335.64L727.59 334.36L729.83 333.06L732.07 331.74L734.34 330.41L736.61 329.06L738.91 327.70L741.21 326.32L743.53 324.92L745.87 323.52L748.22 322.10L750.58 320.67L752.95 319.23L755.33 317.78L757.72 316.32L760.11 314.86L762.50 313.40L764.85 312.03L767.19 310.67L769.52 309.30L771.84 307.95L774.15 306.59L776.43 305.25L778.69 303.92L780.92 302.59L783.13 301.28L785.31 299.97L787.46 298.68L789.57 297.41L791.66 296.14L793.73 294.89L795.77 293.65L797.79 292.42L799.79 291.20L801.77 290.00L803.75 288.81L805.73 287.62L807.70 286.45L809.68 285.29L811.68 284.14L813.70 283.00L815.74 281.87L817.81 280.75L819.91 279.65L822.06 278.56L824.25 277.49L826.48 276.44L828.77 275.40L831.11 274.40L833.50 273.42L835.95 272.47L838.45 271.57L841.00 270.70L843.60 269.88L846.25 269.11L848.94 268.40L851.67 267.75L854.43 267.17L857.21 266.66L860.00 266.24L862.81 265.90L865.62 265.65L868.41 265.50L871.19 265.45L873.94 265.50L876.65 265.67L879.31 265.95L881.91 266.34L884.45 266.86L886.92 267.49L889.30 268.24L891.58 269.12L893.77 270.12L895.85 271.24L897.82 272.47L899.68 273.82L901.41 275.29L903.01 276.86L904.49 278.53L905.84 280.31L907.06 282.18L908.14 284.14L909.10 286.18L909.92 288.30L910.62 290.49L911.20 292.74L911.65 295.05L911.99 297.41L912.21 299.82L912.33 302.27L912.34 304.75L912.26 307.26L912.09 309.80L911.83 312.35L911.49 314.93L911.09 317.51L910.61 320.10L910.08 322.71L909.50 325.31L908.87 327.92L908.20 330.53L907.50 333.15L906.77 335.76L906.03 338.37L905.27 340.99L904.50 343.60" stroke="#2834c4" stroke-width="5.4" fill="none" stroke-linejoin="round"/>
<path d="M47.5 161.5L1045 373.5" stroke="#000" stroke-width="5.5" fill="none"/>
<path d="M1074.5 382.5L1041.5 362.7L1036.9 383.8Z" fill="#000"/>
<path d="M949 353.1V255" stroke="#000" stroke-width="5.3"/>
<path d="M949 225L961.5 260.5L937 260.5Z" fill="#000"/>
<path d="M949.0 353.1L885 432" stroke="#000" stroke-width="5.8"/>
<path d="M867 455.5L879.7 424.7L897.9 436.8Z" fill="#000"/>
<path d="M252 408V340H351" stroke="#000" stroke-width="3.6" fill="none"/>
<path d="M540 408.5V324H604" stroke="#000" stroke-width="3.6" fill="none"/>
<g font-family="'Liberation Sans', sans-serif" font-weight="bold" font-size="39.5" fill="#000" stroke="#000" stroke-width="0.7">
<text x="169" y="452.7">Electric</text>
<text x="169.5" y="498">field</text>
<text x="451.7" y="455.1">Magnetic</text>
<text x="452.6" y="494.4">field</text>
</g>
</svg>
</body></html>
